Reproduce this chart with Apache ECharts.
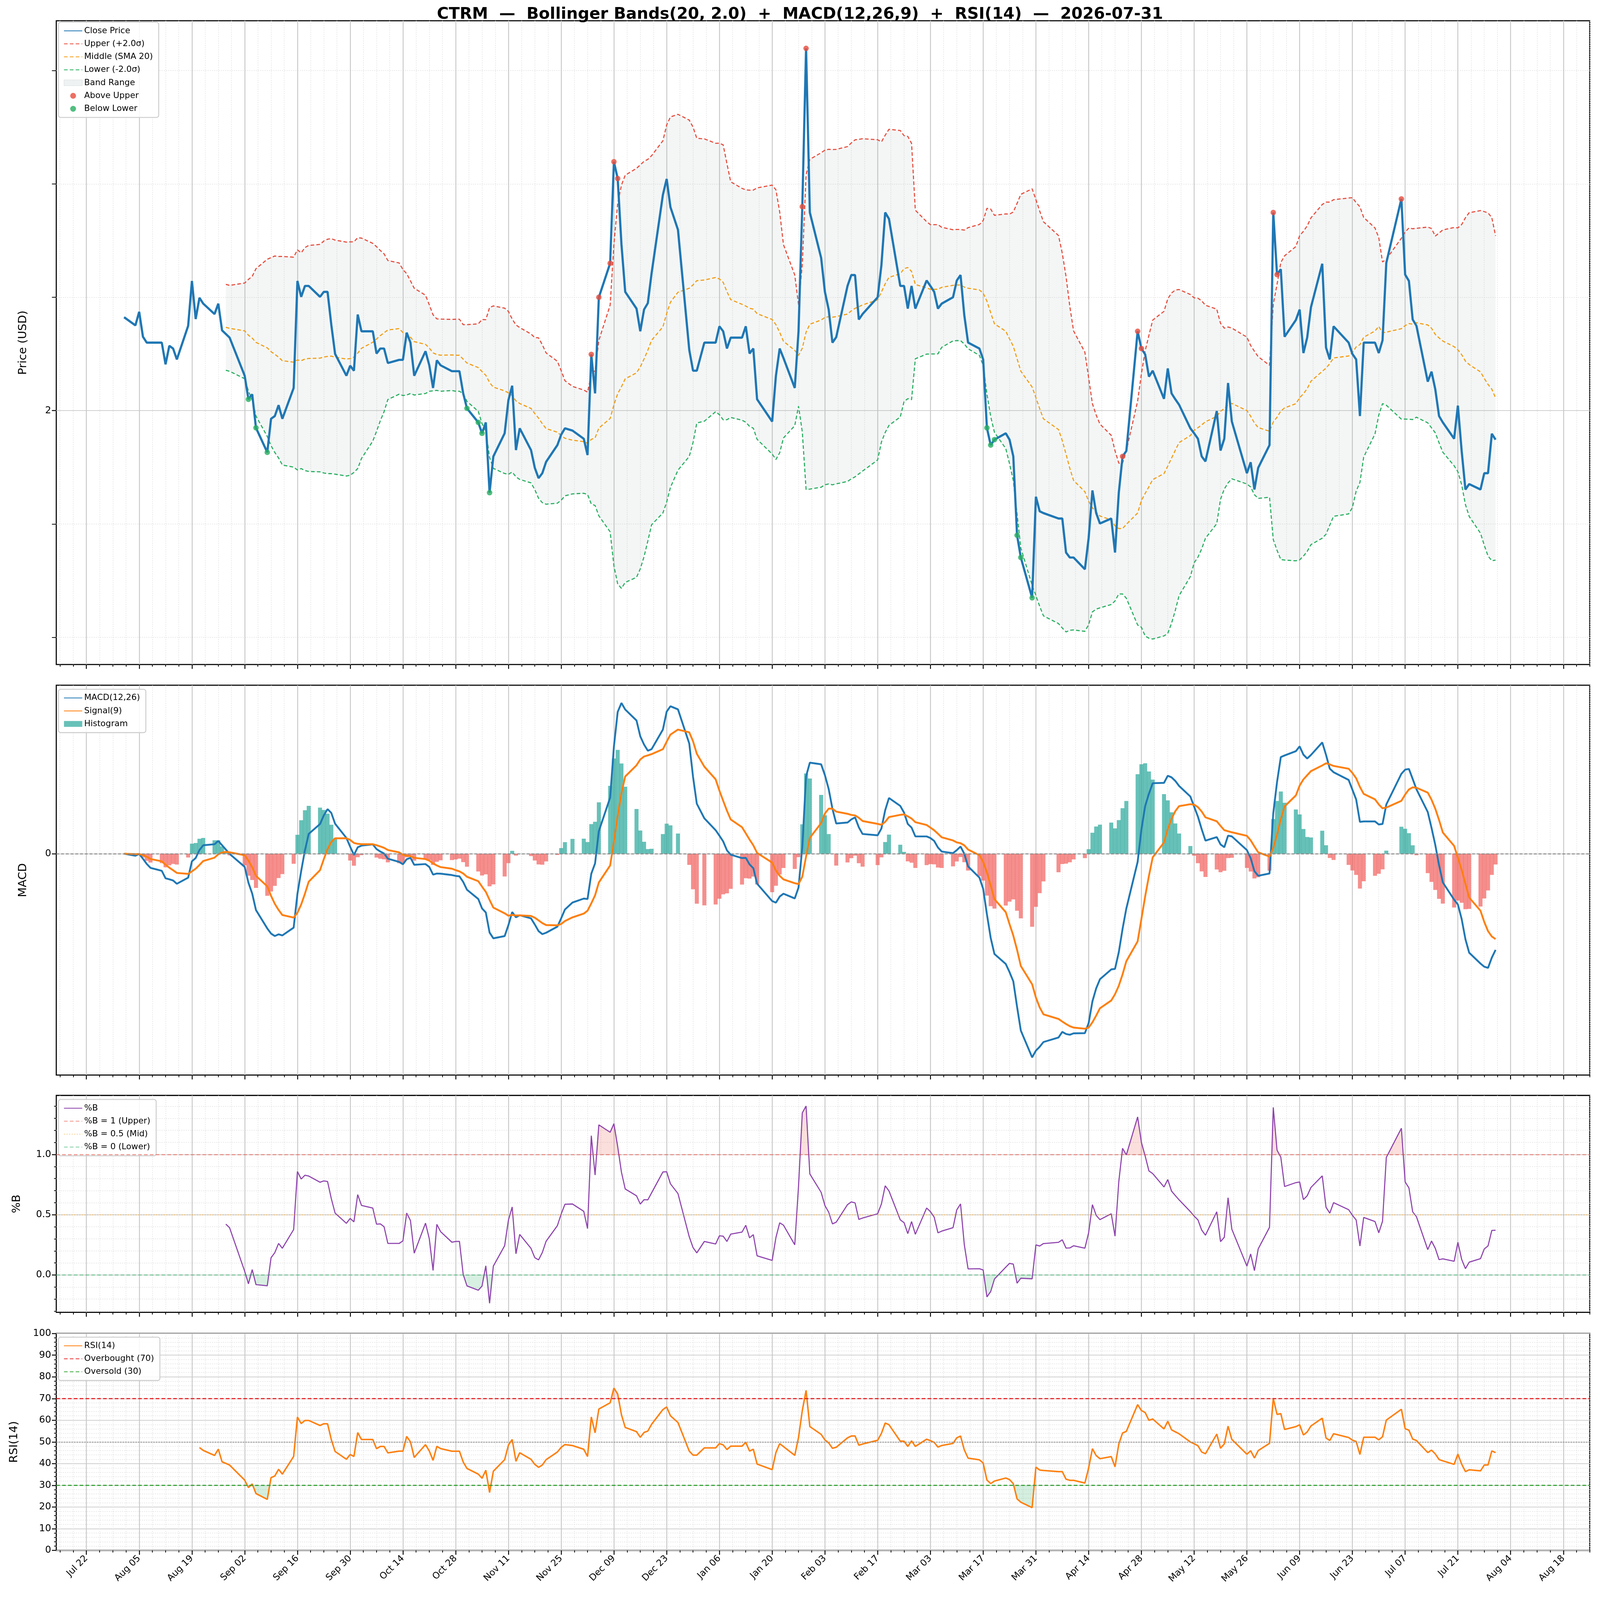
<!DOCTYPE html>
<html>
<head>
<meta charset="utf-8">
<script src="https://cdn.jsdelivr.net/npm/echarts@6/dist/echarts.min.js"></script>
<style>html,body{margin:0;padding:0;background:#fff;overflow:hidden}#chart{width:100vw;height:100vh}</style>
</head>
<body>
<div id="chart"></div>
<script>
// trading days, Aug 1 2025 .. Jul 31 2026 (weekdays minus NYSE holidays)
var holidays = ['2025-09-01','2025-11-27','2025-12-25','2026-01-01','2026-01-19','2026-02-16','2026-04-03','2026-05-25','2026-06-19','2026-07-03'];

// close prices, one per trading day
var closeAug = [2.206,2.188,2.218,2.163,2.150,2.150,2.150,2.102,2.143,2.137,2.113,2.187,2.286,2.202,2.249,2.236,2.213,2.236,2.177,2.169,2.161];
var closeSep = [2.077,2.025,2.036,1.962,1.908,1.982,1.988,2.012,1.982,2.050,2.286,2.251,2.275,2.275,2.251,2.262,2.262,2.189,2.125,2.077,2.099];
var closeOct = [2.088,2.212,2.175,2.175,2.126,2.137,2.137,2.105,2.112,2.112,2.172,2.150,2.077,2.131,2.100,2.050,2.111,2.100,2.087,2.087,2.087,2.038,2.005];
var closeNov = [1.974,1.950,1.974,1.819,1.899,1.950,2.023,2.055,1.913,1.961,1.913,1.874,1.851,1.862,1.887,1.924,1.947,1.961,1.956];
var closeDec = [1.938,1.902,2.124,2.038,2.250,2.325,2.549,2.512,2.367,2.262,2.225,2.175,2.223,2.237,2.303,2.476,2.511,2.449,2.399,2.134,2.088,2.088];
var closeJan = [2.150,2.150,2.186,2.175,2.137,2.161,2.161,2.186,2.126,2.137,2.025,1.976,2.077,2.137,2.116,2.050,2.175,2.450,2.799,2.437];
var closeFeb = [2.337,2.262,2.223,2.150,2.162,2.275,2.299,2.299,2.201,2.213,2.250,2.321,2.437,2.423,2.275,2.275,2.225,2.275,2.225];
var closeMar = [2.287,2.275,2.262,2.225,2.236,2.250,2.287,2.299,2.210,2.150,2.137,2.113,1.962,1.924,1.936,1.950,1.936,1.899,1.725,1.676,1.587,1.810];
var closeApr = [1.778,1.774,1.762,1.762,1.687,1.676,1.676,1.650,1.719,1.824,1.774,1.751,1.762,1.687,1.819,1.899,1.911,2.175,2.137,2.124,2.075];
var closeMay = [2.088,2.026,2.093,2.038,2.025,2.013,1.961,1.950,1.938,1.899,1.888,1.999,1.912,1.938,2.061,1.976,1.862,1.886,1.826,1.874];
var closeJun = [1.924,2.437,2.300,2.312,2.163,2.200,2.223,2.127,2.161,2.228,2.324,2.139,2.113,2.186,2.150,2.125,2.113,1.988,2.150,2.150,2.127];
var closeJul = [2.155,2.326,2.467,2.300,2.286,2.201,2.187,2.064,2.086,2.047,1.988,1.974,1.938,2.011,1.911,1.826,1.838,1.826,1.862,1.862,1.949,1.936];

var majorTicks = [];
for (var d = 0; d <= 392; d += 14) majorTicks.push(d);
var minorTicks = [];
for (var m = -7; m <= 399; m += 3.5) if (m % 14 !== 0) minorTicks.push(m);

var priceMajor = [2];
var priceMinor = [1.5, 1.75, 2.25, 2.5, 2.75];
var pbMajor = [0, 0.5, 1];
var pbMinor = [-0.3,-0.2,-0.1,0.1,0.2,0.3,0.4,0.6,0.7,0.8,0.9,1.1,1.2,1.3,1.4];
var rsiMajor = [0,10,20,30,40,50,60,70,80,90,100];

var close = [].concat(closeAug, closeSep, closeOct, closeNov, closeDec, closeJan, closeFeb, closeMar, closeApr, closeMay, closeJun, closeJul);

var DAY = 86400000;
var base = Date.UTC(2025, 6, 22);
var xs = [];
for (var t = Date.UTC(2025, 7, 1); t <= Date.UTC(2026, 6, 31); t += DAY) {
  var dt = new Date(t);
  var wd = dt.getUTCDay();
  if (wd === 0 || wd === 6) continue;
  if (holidays.indexOf(dt.toISOString().slice(0, 10)) >= 0) continue;
  xs.push(Math.round((t - base) / DAY));
}

// indicators
var N = close.length;
var mid = [], up = [], lo = [], pctB = [];
for (var i = 0; i < N; i++) {
  if (i < 19) { mid.push(null); up.push(null); lo.push(null); pctB.push(null); continue; }
  var s = 0; for (var k = i - 19; k <= i; k++) s += close[k];
  var mu = s / 20, v = 0;
  for (k = i - 19; k <= i; k++) v += (close[k] - mu) * (close[k] - mu);
  var sd = Math.sqrt(v / 19);
  mid.push(mu); up.push(mu + 2 * sd); lo.push(mu - 2 * sd);
  pctB.push((close[i] - (mu - 2 * sd)) / (4 * sd));
}
function ema(arr, span) {
  var a = 2 / (span + 1), out = [arr[0]];
  for (var i = 1; i < arr.length; i++) out.push(a * arr[i] + (1 - a) * out[i - 1]);
  return out;
}
var e12 = ema(close, 12), e26 = ema(close, 26);
var macd = close.map(function (c, i) { return e12[i] - e26[i]; });
var sig = ema(macd, 9);
var hist = macd.map(function (v, i) { return v - sig[i]; });
// Wilder-style smoothing
var rsi = [null], ag = 0, al = 0;
for (i = 1; i < N; i++) {
  var df = close[i] - close[i - 1];
  var gn = df > 0 ? df : 0, ls = df < 0 ? -df : 0;
  if (i === 1) { ag = gn; al = ls; } else { ag = ag + (gn - ag) / 14; al = al + (ls - al) / 14; }
  rsi.push(i < 14 ? null : (al === 0 ? 100 : 100 - 100 / (1 + ag / al)));
}

function pts(arr) { return arr.map(function (v, i) { return [xs[i], v]; }); }
var aboveUp = [], belowLo = [];
for (i = 0; i < N; i++) {
  if (up[i] !== null && close[i] > up[i]) aboveUp.push([xs[i], close[i]]);
  if (lo[i] !== null && close[i] < lo[i]) belowLo.push([xs[i], close[i]]);
}
var mn = Math.min.apply(null, macd.concat(sig, hist));
var mx = Math.max.apply(null, macd.concat(sig, hist));
var mr = mx - mn;

var MONTHS = ['Jan','Feb','Mar','Apr','May','Jun','Jul','Aug','Sep','Oct','Nov','Dec'];
function dateLabel(v) {
  var dt = new Date(base + v * DAY);
  var dd = dt.getUTCDate();
  return MONTHS[dt.getUTCMonth()] + ' ' + (dd < 10 ? '0' + dd : dd);
}

var el = document.getElementById('chart');
var W = el.clientWidth, H = el.clientHeight;
var S = W / 4378, V = H / 4322;
function px(v) { return v * S; }

var FONT = 'DejaVu Sans';
var gridDefs = [[56, 1739], [1851, 1053], [2959, 586], [3602, 586]];
var grids = gridDefs.map(function (g) {
  return { left: 154 * S, width: 4196 * S, top: g[0] * V, height: g[1] * V, show: true,
    borderColor: '#000', borderWidth: px(3), backgroundColor: 'transparent' };
});

var xAxis = [], yAxis = [];
grids.forEach(function (g, gi) {
  var last = gi === 3;
  xAxis.push({
    type: 'value', gridIndex: gi, min: -8, max: 399, position: 'bottom',
    axisLine: { show: false, onZero: false },
    axisTick: { show: true, customValues: majorTicks, length: px(12), lineStyle: { color: '#000', width: px(2.5) } },
    axisLabel: { show: last, customValues: majorTicks, formatter: dateLabel, rotate: 45, fontSize: px(25), color: '#000', fontFamily: FONT, margin: px(18) },
    splitLine: { show: true, lineStyle: { color: '#c8c8c8', width: px(2.5) } }
  });
  xAxis.push({
    type: 'value', gridIndex: gi, min: -8, max: 399, position: 'bottom',
    axisLine: { show: false, onZero: false },
    axisTick: { show: true, customValues: minorTicks, length: px(6), lineStyle: { color: '#000', width: px(2) } },
    axisLabel: { show: false },
    splitLine: { show: true, lineStyle: { color: '#e0e0e0', width: px(1.5), type: [px(3), px(3)] } }
  });
});

function yPair(gi, min, max, majors, minors, minorLen, name, nameGap, fmt) {
  yAxis.push({
    type: 'value', gridIndex: gi, min: min, max: max, position: 'left', name: name, nameLocation: 'middle', nameGap: px(nameGap),
    nameTextStyle: { fontSize: px(31), color: '#000', fontFamily: FONT },
    axisLine: { show: false, onZero: false },
    axisTick: { show: true, customValues: majors, length: px(12), lineStyle: { color: '#000', width: px(2.5) } },
    axisLabel: { customValues: majors, fontSize: px(26), color: '#000', fontFamily: FONT, margin: px(14), formatter: fmt },
    splitLine: { show: true, lineStyle: { color: '#d0d0d0', width: px(2) } }
  });
  yAxis.push({
    type: 'value', gridIndex: gi, min: min, max: max, position: 'left',
    axisLine: { show: false, onZero: false },
    axisTick: { show: minors.length > 0, customValues: minors.length ? minors : [min], length: px(minorLen), lineStyle: { color: '#000', width: px(2) } },
    axisLabel: { show: false },
    splitLine: { show: minors.length > 0, lineStyle: { color: '#e0e0e0', width: px(1.5), type: [px(3), px(3)] } }
  });
}
var rsiMinor = [];
for (i = 0; i < 100; i += 2) if (i % 10) rsiMinor.push(i);
yPair(0, 1.44, 2.86, priceMajor, priceMinor, 12, 'Price (USD)', 75, function (v) { return String(v); });
yPair(1, mn - 0.05 * mr, mx + 0.05 * mr, [0], [], 6, 'MACD', 75, function () { return '0'; });
yPair(2, -0.31, 1.49, pbMajor, pbMinor, 6, '%B', 92, function (v) { return v.toFixed(1); });
yPair(3, 0, 100, rsiMajor, rsiMinor, 6, 'RSI(14)', 100, function (v) { return String(v); });

function line(name, gi, data, color, width, dash, z) {
  return {
    name: name, type: 'line', xAxisIndex: 2 * gi, yAxisIndex: 2 * gi, data: data,
    showSymbol: false, symbol: 'none', animation: false,
    lineStyle: { color: color, width: px(width), type: dash ? dash.map(px) : 'solid' }, itemStyle: { color: color }, z: z || 3
  };
}
function hline(name, gi, value, color, width, dash, opacity) {
  var s = line(name, gi, [], color, width, dash, 2);
  s.lineStyle.opacity = opacity;
  s.markLine = { symbol: 'none', silent: true, label: { show: false }, animation: false,
    lineStyle: { color: color, width: px(width), type: dash.map(px), opacity: opacity }, data: [{ yAxis: value }] };
  return s;
}
// whole Bollinger band as one polygon: upper edge forward, lower edge back
function bandPolygon(name, color) {
  var first = 19;
  return {
    name: name, type: 'custom', xAxisIndex: 0, yAxisIndex: 0, z: 1, animation: false, silent: true,
    itemStyle: { color: color },
    data: [[xs[first], lo[first]]],
    renderItem: function (params, api) {
      var p = [];
      for (var i = first; i < N; i++) p.push(api.coord([xs[i], up[i]]));
      for (i = N - 1; i >= first; i--) p.push(api.coord([xs[i], lo[i]]));
      return { type: 'polygon', shape: { points: p }, style: { fill: color } };
    }
  };
}
// fill region where b > a, segment by segment, with crossings cut like fill_between
function fillBetween(name, gi, aArr, bArr, color, z) {
  var data = [];
  for (var i = 0; i < N - 1; i++) {
    if (aArr[i] === null || bArr[i] === null || aArr[i + 1] === null || bArr[i + 1] === null) continue;
    if (bArr[i] <= aArr[i] && bArr[i + 1] <= aArr[i + 1]) continue;
    data.push([xs[i], aArr[i], bArr[i], xs[i + 1], aArr[i + 1], bArr[i + 1]]);
  }
  return {
    name: name, type: 'custom', xAxisIndex: 2 * gi, yAxisIndex: 2 * gi, data: data, z: z || 1, animation: false, silent: true,
    itemStyle: { color: color },
    encode: { x: [0, 3], y: [1, 2, 4, 5] },
    renderItem: function (params, api) {
      var x0 = api.value(0), a0 = api.value(1), b0 = api.value(2), x1 = api.value(3), a1 = api.value(4), b1 = api.value(5);
      var d0 = b0 - a0, d1 = b1 - a1, poly;
      if (d0 > 0 && d1 > 0) poly = [[x0, a0], [x1, a1], [x1, b1], [x0, b0]];
      else {
        var tt = d0 / (d0 - d1), xc = x0 + tt * (x1 - x0), yc = a0 + tt * (a1 - a0);
        poly = d0 > 0 ? [[x0, a0], [xc, yc], [x0, b0]] : [[xc, yc], [x1, a1], [x1, b1]];
      }
      return { type: 'polygon', shape: { points: poly.map(function (p) { return api.coord(p); }) },
        style: { fill: color } };
    }
  };
}
function constArr(c) { return close.map(function () { return c; }); }

var series = [
  bandPolygon('Band Range', 'rgba(149,165,166,0.1)'),
  line('Close Price', 0, pts(close), '#1f77b4', 6, null, 5),
  line('Upper (+2.0σ)', 0, pts(up), '#e74c3c', 3, [10, 6]),
  line('Middle (SMA 20)', 0, pts(mid), '#f39c12', 3, [10, 6]),
  line('Lower (-2.0σ)', 0, pts(lo), '#27ae60', 3, [10, 6]),
  { name: 'Above Upper', type: 'scatter', xAxisIndex: 0, yAxisIndex: 0, data: aboveUp, symbolSize: px(15), itemStyle: { color: '#e74c3c' }, z: 6, animation: false },
  { name: 'Below Lower', type: 'scatter', xAxisIndex: 0, yAxisIndex: 0, data: belowLo, symbolSize: px(15), itemStyle: { color: '#27ae60' }, z: 6, animation: false },

  { name: 'Histogram', type: 'bar', xAxisIndex: 2, yAxisIndex: 2, barWidth: px(11), animation: false, z: 2,
    data: hist.map(function (v, i) { return { value: [xs[i], v], itemStyle: { color: v >= 0 ? 'rgba(38,166,154,0.7)' : 'rgba(239,83,80,0.65)' } }; }),
    itemStyle: { color: 'rgba(38,166,154,0.7)' } },
  line('MACD(12,26)', 1, pts(macd), '#1f77b4', 5, null, 4),
  line('Signal(9)', 1, pts(sig), '#ff7f0e', 5, null, 4),
  hline('_zero', 1, 0, '#888', 2.5, [8, 5], 1),

  fillBetween('_pbhi', 2, constArr(1), pctB, 'rgba(231,76,60,0.18)', 1),
  fillBetween('_pblo', 2, pctB, constArr(0), 'rgba(39,174,96,0.18)', 1),
  line('%B', 2, pts(pctB), '#8e44ad', 3, null, 4),
  hline('%B = 1 (Upper)', 2, 1, '#e74c3c', 2.5, [10, 6], 0.6),
  hline('%B = 0.5 (Mid)', 2, 0.5, '#f39c12', 2.5, [3, 4], 0.5),
  hline('%B = 0 (Lower)', 2, 0, '#27ae60', 2.5, [10, 6], 0.6),

  fillBetween('_rhi', 3, constArr(70), rsi, 'rgba(231,76,60,0.18)', 1),
  fillBetween('_rlo', 3, rsi, constArr(30), 'rgba(39,174,96,0.2)', 1),
  line('RSI(14)', 3, pts(rsi), '#ff7f0e', 4, null, 4),
  hline('Overbought (70)', 3, 70, '#e41a1c', 3, [10, 6], 0.9),
  hline('Oversold (30)', 3, 30, '#2ca02c', 3, [10, 6], 0.9),
  hline('_mid50', 3, 50, '#888', 2.5, [3, 4], 0.9)
];

function legend(left, top, names) {
  return {
    orient: 'vertical', left: left * S, top: top * V, selectedMode: false,
    data: names.map(function (n) {
      if (typeof n === 'string') return { name: n, itemStyle: { opacity: 0 } };
      return n;
    }),
    itemWidth: px(50), itemHeight: px(16), itemGap: px(12), padding: [px(12), px(16), px(12), px(14)],
    backgroundColor: 'rgba(255,255,255,0.85)', borderColor: '#cccccc', borderWidth: px(2.5), borderRadius: px(6),
    textStyle: { fontSize: px(23), color: '#000', fontFamily: FONT }
  };
}

var option = {
  backgroundColor: '#fff',
  animation: false,
  title: { text: 'CTRM  —  Bollinger Bands(20, 2.0)  +  MACD(12,26,9)  +  RSI(14)  —  2026-07-31', left: 'center', top: 12 * V,
    textStyle: { fontSize: px(44), fontWeight: 'bold', color: '#000', fontFamily: FONT } },
  grid: grids,
  xAxis: xAxis,
  yAxis: yAxis,
  legend: [
    legend(160, 60, ['Close Price', 'Upper (+2.0σ)', 'Middle (SMA 20)', 'Lower (-2.0σ)',
      { name: 'Band Range', icon: 'rect', itemStyle: { color: 'rgba(149,165,166,0.15)', borderColor: 'rgba(149,165,166,0.3)', borderWidth: 1 } },
      { name: 'Above Upper', icon: 'circle' }, { name: 'Below Lower', icon: 'circle' }]),
    legend(160, 1862, ['MACD(12,26)', 'Signal(9)', { name: 'Histogram', icon: 'rect', itemStyle: { color: 'rgba(38,166,154,0.7)' } }]),
    legend(160, 2970, ['%B', '%B = 1 (Upper)', '%B = 0.5 (Mid)', '%B = 0 (Lower)']),
    legend(160, 3612, ['RSI(14)', 'Overbought (70)', 'Oversold (30)'])
  ],
  series: series
};

var chart = echarts.init(el, null, { renderer: 'canvas' });
chart.setOption(option);
</script>
</body>
</html>
